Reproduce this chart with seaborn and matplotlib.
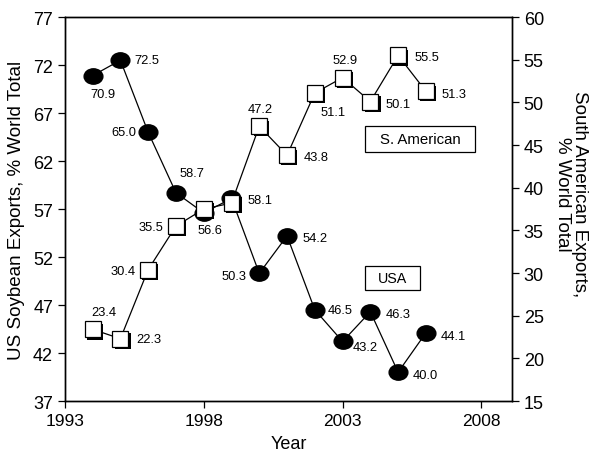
import numpy as np
import matplotlib
matplotlib.use('Agg')
import matplotlib.pyplot as plt
import matplotlib.patheffects as pe
from matplotlib.path import Path
from matplotlib.patches import Rectangle
import seaborn as sns

# data
years = [1994, 1995, 1996, 1997, 1998, 1999, 2000, 2001, 2002, 2003, 2004, 2005, 2006]
usa = [70.9, 72.5, 65.0, 58.7, 56.6, 58.1, 50.3, 54.2, 46.5, 43.2, 46.3, 40.0, 44.1]
s_american = [23.4, 22.3, 30.4, 35.5, 37.5, 38.2, 47.2, 43.8, 51.1, 52.9, 50.1, 55.5, 51.3]
usa_labels = ['70.9', '72.5', '65.0', '58.7', '56.6', '58.1', '50.3', '54.2', '46.5', '43.2', '46.3', '40.0', '44.1']
sa_labels = ['23.4', '22.3', '30.4', '35.5', '', '', '47.2', '43.8', '51.1', '52.9', '50.1', '55.5', '51.3']

# label offsets in pixels (dx, dy), and alignment
usa_off = [(10, -18, 'center'), (14, 0, 'left'), (-12, 0, 'right'), (16, 20, 'center'),
           (6, -17, 'center'), (16, -2, 'left'), (-13, -3, 'right'), (15, -2, 'left'),
           (13, 0, 'left'), (10, -6, 'left'), (15, -2, 'left'), (15, -3, 'left'), (15, -3, 'left')]
sa_off = [(11, 17, 'center'), (16, 0, 'left'), (-12, -1, 'right'), (-13, -1, 'right'),
          (0, 0, 'left'), (0, 0, 'left'), (1, 17, 'center'), (17, -2, 'left'),
          (18, -19, 'center'), (3, 18, 'center'), (15, -2, 'left'), (16, -2, 'left'), (16, -3, 'left')]

sns.set_style('ticks')
plt.rcParams['font.family'] = ['Liberation Sans', 'DejaVu Sans']
plt.rcParams['text.color'] = 'black'
plt.rcParams['axes.labelcolor'] = 'black'

fig = plt.figure(figsize=(5.95, 4.56), dpi=100)
ax = fig.add_axes([0.109, 0.1184, 0.7515, 0.842])
ax2 = ax.twinx()

# ellipse marker for USA
circ = Path.unit_circle()
ellipse = Path(circ.vertices * np.array([1.22, 1.0]), circ.codes)

sns.lineplot(x=years, y=usa, ax=ax, color='black', linewidth=0.9)
ax.plot(years, usa, linestyle='none', marker=ellipse, markersize=13.5,
        markerfacecolor='black', markeredgecolor='black')

sns.lineplot(x=years, y=s_american, ax=ax2, color='black', linewidth=0.9)
ax2.plot(years, s_american, linestyle='none', marker='s', markersize=11.5,
         markerfacecolor='white', markeredgecolor='black', markeredgewidth=0.9,
         path_effects=[pe.withSimplePatchShadow(offset=(1.6, -1.6), shadow_rgbFace='black', alpha=1)])

for x, y, t, (dx, dy, ha) in zip(years, usa, usa_labels, usa_off):
    ax.annotate(t, (x, y), xytext=(dx, dy), textcoords='offset pixels',
                ha=ha, va='center', fontsize=9.3)
for x, y, t, (dx, dy, ha) in zip(years, s_american, sa_labels, sa_off):
    if t:
        ax2.annotate(t, (x, y), xytext=(dx, dy), textcoords='offset pixels',
                     ha=ha, va='center', fontsize=9.3)

ax.set_xlim(1993, 2009.1)
ax.set_ylim(37, 77)
ax2.set_ylim(15, 60)
ax.set_xticks([1993, 1998, 2003, 2008])
ax.set_yticks(np.arange(37, 78, 5))
ax2.set_yticks(np.arange(15, 61, 5))

for a in (ax, ax2):
    for s in a.spines.values():
        s.set_visible(True)
        s.set_linewidth(1.0)
        s.set_color('black')
    a.tick_params(direction='out', length=5, width=0.9, colors='black', labelsize=12.5)
ax2.tick_params(axis='y', labelsize=13)
ax.tick_params(axis='y', labelsize=13)

ax.set_xlabel('Year', fontsize=13, labelpad=5)
ax.set_ylabel('US Soybean Exports, % World Total', fontsize=13.5, labelpad=6)
ax2.set_ylabel('South American Exports,\n% World Total', fontsize=13.5, rotation=270,
               labelpad=30, linespacing=1.0)
ax2.yaxis.set_label_coords(1.17, 0.542)

# boxed series names
ax2.add_patch(Rectangle((0.671, 0.648), 0.246, 0.068, transform=ax.transAxes,
                        facecolor='white', edgecolor='black', linewidth=0.9, zorder=5))
ax2.text(0.794, 0.682, 'S. American', transform=ax.transAxes, ha='center', va='center',
         fontsize=10.8, zorder=6)
ax2.add_patch(Rectangle((0.671, 0.289), 0.123, 0.063, transform=ax.transAxes,
                        facecolor='white', edgecolor='black', linewidth=0.9, zorder=5))
ax2.text(0.7325, 0.3205, 'USA', transform=ax.transAxes, ha='center', va='center',
         fontsize=10.3, zorder=6)

fig.savefig('out.png', dpi=100)
